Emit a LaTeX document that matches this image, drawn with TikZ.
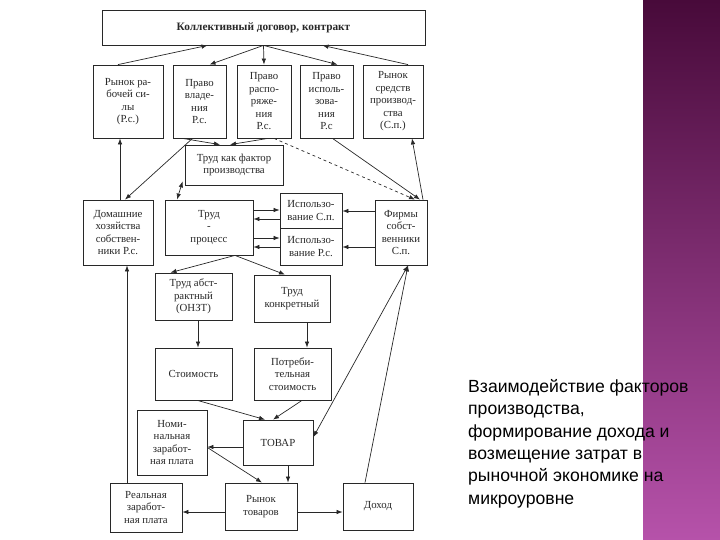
\documentclass[tikz,border=0pt]{standalone}
\usepackage{fontspec}
\setmainfont{Liberation Serif}
\newfontfamily\capfont{Liberation Sans}
\usetikzlibrary{arrows.meta, calc}
\definecolor{inkGray}{RGB}{40,40,40}
\definecolor{barTop}{RGB}{72,10,58}
\definecolor{barBot}{RGB}{182,82,170}

\begin{document}
\begin{tikzpicture}[
        x=1pt, y=-1pt,
        font=\fontsize{10.8}{12.5}\selectfont\color{inkGray},
        box/.style={rectangle, draw=inkGray, line width=0.8pt, fill=white, align=center, inner sep=2pt},
        bx/.style 2 args={minimum width=#1pt, minimum height=#2pt},
        arr/.style={-{Latex[length=6pt,width=4.5pt]}, line width=0.7pt, inkGray},
        darr/.style={{Latex[length=6pt,width=4.5pt]}-{Latex[length=6pt,width=4.5pt]}, line width=0.7pt, inkGray}
    ]
    \useasboundingbox (0,0) rectangle (720,540);
    \shade[top color=barTop, bottom color=barBot] (643,0) rectangle (720,540);

    % contract and the rights
    \node[box, bx={323}{35}, font=\fontsize{11.3}{12.5}\selectfont\bfseries\color{inkGray}] (dog) at (263.5,27.5) {Коллективный договор, контракт};
    \node[box, bx={70}{73}] (rrs) at (128,101.5) {Рынок ра-\\бочей си-\\лы\\(Р.с.)};
    \node[box, bx={53}{73}] (pvl) at (199.5,101.5) {Право\\владе-\\ния\\Р.с.};
    \node[box, bx={54}{73}] (prs) at (264,101.5) {Право\\распо-\\ряже-\\ния\\Р.с.};
    \node[box, bx={53}{73}] (pis) at (326.5,101.5) {Право\\исполь-\\зова-\\ния\\Р.с};
    \node[box, bx={60}{73}] (rsp) at (393,101.5) {Рынок\\средств\\производ-\\ства\\(С.п.)};

    % owners and labour
    \node[box, bx={98}{40}] (tkf) at (234,165) {Труд как фактор\\производства};
    \node[box, bx={70}{65}] (dom) at (118,232.5) {Домашние\\хозяйства\\собствен-\\ники Р.с.};
    \node[box, bx={88}{55}] (trp) at (209,227.5) {Труд\\-\\процесс};
    \node[box, bx={62}{35}] (isp) at (311,210.5) {Использо-\\вание С.п.};
    \node[box, bx={62}{37}] (ipr) at (311,246.5) {Использо-\\вание Р.с.};
    \node[box, bx={52}{65}] (frm) at (401,232.5) {Фирмы\\собст-\\венники\\С.п.};
    \node[box, bx={77}{47}] (tab) at (193.5,296.5) {Труд абст-\\рактный\\(ОНЗТ)};
    \node[box, bx={76}{47}] (tkn) at (292,298.5) {Труд\\конкретный};
    \node[box, bx={77}{52}] (stm) at (193.5,374) {Стоимость};
    \node[box, bx={77}{52}] (pts) at (292.5,374) {Потреби-\\тельная\\стоимость};

    % goods and income
    \node[box, bx={70}{45}] (tov) at (278,442.5) {ТОВАР};
    \node[box, bx={70}{65}] (nom) at (172,442.5) {Номи-\\нальная\\заработ-\\ная плата};
    \node[box, bx={72}{47}] (rtv) at (261,506.5) {Рынок\\товаров};
    \node[box, bx={72}{49}] (rea) at (146,507.5) {Реальная\\заработ-\\ная плата};
    \node[box, bx={70}{47}] (doh) at (378,506.5) {Доход};

    \draw[arr] ([xshift=-10pt]rrs.north) -- ([xshift=-56pt]dog.south);
    \draw[arr] (dog.south) -- ([xshift=10pt]pvl.north);
    \draw[arr] (dog.south) -- (prs.north);
    \draw[arr] (dog.south) -- ([xshift=11pt]pis.north);
    \draw[arr] ([xshift=15pt]rsp.north) -- ([xshift=59pt]dog.south);

    \draw[arr] ([xshift=-17pt]pvl.south) -- ([xshift=-14pt]tkf.north);
    \draw[arr] ([xshift=4pt]prs.south) -- ([xshift=-4pt]tkf.north);
    \draw[arr, dashed] ([xshift=10pt]prs.south) -- ([xshift=14pt]frm.north);
    \draw[arr] ([xshift=6pt]pis.south) -- ([xshift=19pt]frm.north);
    \draw[arr] ([xshift=22pt]frm.north) -- ([xshift=19pt]rsp.south);
    \draw[arr] ([xshift=-7pt]pvl.south) -- ([xshift=7pt]dom.north);
    \draw[arr] ([xshift=2pt]dom.north) -- ([xshift=-8pt]rrs.south);
    \draw[darr] ([xshift=-2pt,yshift=4pt]tkf.south west) -- ([xshift=-32pt]trp.north);

    \foreach \dy in {17.5,-10.5}
        \draw[arr] ([yshift=\dy pt]trp.east) -- ([yshift=\dy pt]trp.east -| isp.west);
    \foreach \dy in {8.5,-19.5}
        \draw[arr] ([yshift=\dy pt]trp.east -| isp.west) -- ([yshift=\dy pt]trp.east);
    \draw[arr] ([yshift=21.5pt]frm.west) -- ([yshift=21.5pt]frm.west -| isp.east);
    \draw[arr] ([yshift=-14.5pt]frm.west) -- ([yshift=-14.5pt]frm.west -| ipr.east);

    \draw[arr] ([xshift=26pt]trp.south) -- ([xshift=-23pt]tab.north);
    \draw[arr] ([xshift=26pt]trp.south) -- ([xshift=-7pt]tkn.north);
    \draw[arr] ([xshift=4.5pt]tab.south) -- ([xshift=4.5pt]tab.south |- stm.north);
    \draw[arr] ([xshift=15pt]tkn.south) -- ([xshift=15pt]tkn.south |- pts.north);
    \draw[arr] ([xshift=4pt]stm.south) -- ([xshift=-13pt]tov.north);
    \draw[arr] ([xshift=9.5pt]pts.south) -- ([xshift=-5pt]tov.north);

    \draw[arr] ([yshift=-4.5pt]tov.west) -- ([yshift=-4.5pt]tov.west -| nom.east);
    \draw[arr] ([yshift=-5pt]nom.east) -- ([xshift=1pt]rtv.north);
    \draw[arr] ([xshift=10pt]tov.south) -- ([xshift=10pt]tov.south |- rtv.north);
    \draw[arr] ([yshift=-5.5pt]rtv.west) -- ([yshift=-5.5pt]rtv.west -| rea.east);
    \draw[arr] ([yshift=-5.5pt]rtv.east) -- ([yshift=-5.5pt]rtv.east -| doh.west);
    \draw[arr] ([xshift=-19pt]rea.north) -- ([xshift=-19pt]rea.north |- dom.south);
    \draw[arr] ([xshift=-13pt]doh.north) -- ([xshift=7pt]frm.south);
    \draw[darr] ([yshift=5.5pt]tov.east) -- ([xshift=7pt]frm.south);

    \node[font=\capfont\fontsize{17.6}{22.4}\selectfont, text=black, align=left, anchor=north west, inner sep=0pt] (cap) at (468,379) {Взаимодействие факторов\\производства,\\формирование дохода и\\возмещение затрат в\\рыночной экономике на\\микроуровне};
\end{tikzpicture}
\end{document}
